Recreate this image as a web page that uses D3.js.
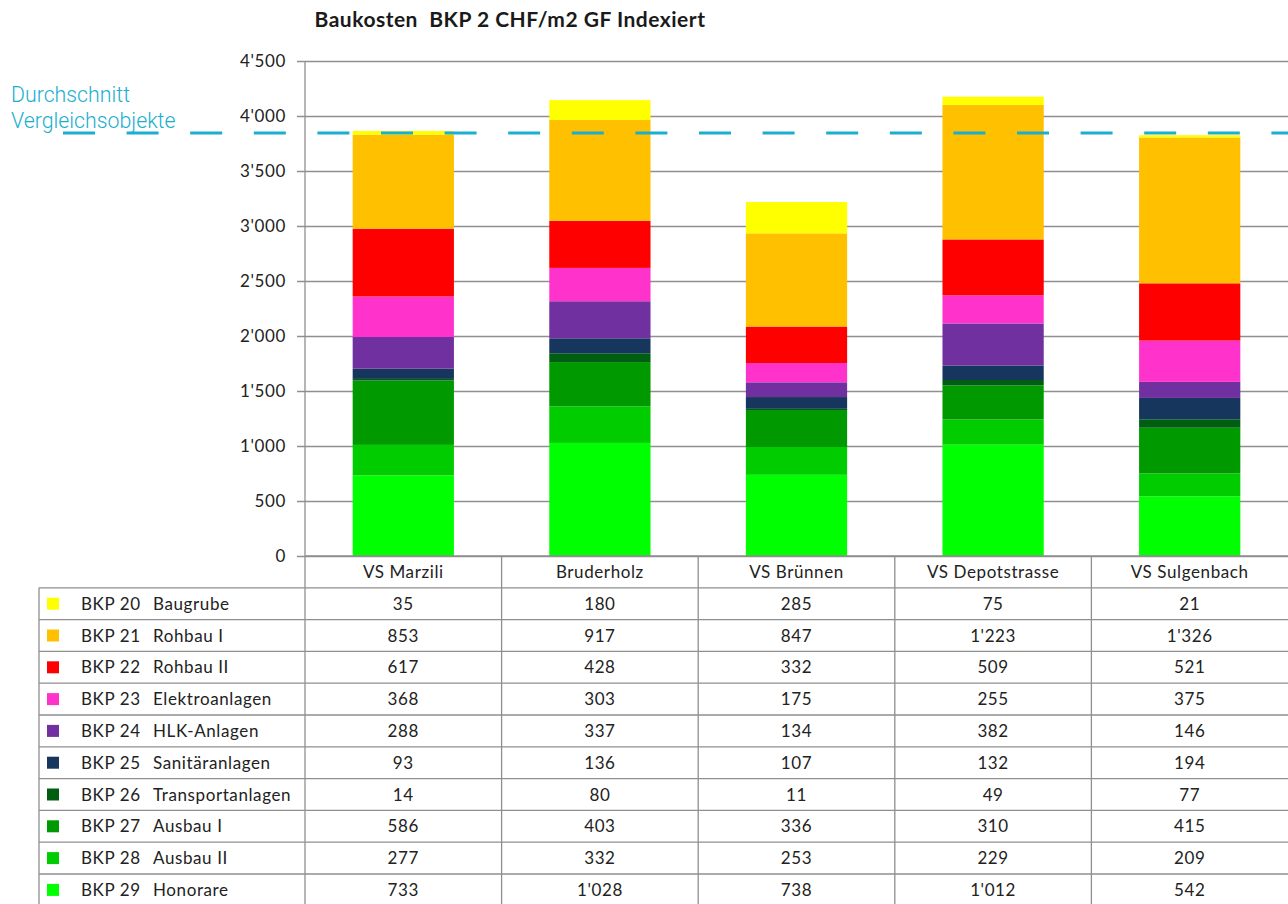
<!DOCTYPE html>
<html>
<head>
<meta charset="utf-8">
<script src="https://cdn.jsdelivr.net/npm/d3@7"></script>
<style>
  html, body { margin: 0; padding: 0; background: #fff; }
  svg { display: block; }
</style>
</head>
<body>
<svg id="chart" width="1288" height="904"></svg>
<script>
// ---------- DATA ----------
const categories = ["VS Marzili", "Bruderholz", "VS Brünnen", "VS Depotstrasse", "VS Sulgenbach"];
const seriesCodes = ["BKP 20", "BKP 21", "BKP 22", "BKP 23", "BKP 24", "BKP 25", "BKP 26", "BKP 27", "BKP 28", "BKP 29"];
const seriesNames = ["Baugrube", "Rohbau I", "Rohbau II", "Elektroanlagen", "HLK-Anlagen", "Sanitäranlagen", "Transportanlagen", "Ausbau I", "Ausbau II", "Honorare"];
const seriesColors = ["#ffff00", "#ffc000", "#ff0000", "#ff33cc", "#7030a0", "#17365d", "#005e12", "#009900", "#00cc00", "#00ff00"];
const bkp20 = [35, 180, 285, 75, 21];
const bkp21 = [853, 917, 847, 1223, 1326];
const bkp22 = [617, 428, 332, 509, 521];
const bkp23 = [368, 303, 175, 255, 375];
const bkp24 = [288, 337, 134, 382, 146];
const bkp25 = [93, 136, 107, 132, 194];
const bkp26 = [14, 80, 11, 49, 77];
const bkp27 = [586, 403, 336, 310, 415];
const bkp28 = [277, 332, 253, 229, 209];
const bkp29 = [733, 1028, 738, 1012, 542];
const seriesValues = [bkp20, bkp21, bkp22, bkp23, bkp24, bkp25, bkp26, bkp27, bkp28, bkp29];
const yTicks = [0, 500, 1000, 1500, 2000, 2500, 3000, 3500, 4000, 4500];
const averageValue = 3846;
const averageLabel = ["Durchschnitt", "Vergleichsobjekte"];
const title = "Baukosten  BKP 2 CHF/m2 GF Indexiert";

// ---------- LAYOUT ----------
const svg = d3.select("#chart");
const plotLeft = 305, plotRight = 1288, plotTop = 61, plotBottom = 556;
const tableLeft = 39, rowH = 31.8, tableBottom = plotBottom + rowH * (seriesCodes.length + 1);
const gridColor = "#8f8f8f";
const textFont = "Lato, 'Open Sans', sans-serif";
const textSize = 17, textSpacing = 0.6, textColor = "#222";

const fmt = d3.formatLocale({decimal: ".", thousands: "'", grouping: [3], currency: ["", ""]}).format(",d");

const x = d3.scaleBand().domain(categories).range([plotLeft, plotRight]).paddingInner(0).paddingOuter(0);
const y = d3.scaleLinear().domain([0, 4500]).range([plotBottom, plotTop]);
const barW = x.bandwidth() * 0.515;

function styleText(sel) {
  return sel.attr("font-family", textFont).attr("font-size", textSize)
    .attr("letter-spacing", textSpacing).attr("fill", textColor);
}

// Title
svg.append("text")
  .attr("x", 510).attr("y", 27)
  .attr("text-anchor", "middle")
  .style("white-space", "pre")
  .attr("font-family", textFont).attr("font-weight", "bold").attr("font-size", 21)
  .attr("letter-spacing", 0.5)
  .attr("fill", "#1a1a1a")
  .text(title);

// Gridlines + y axis
const yAxis = d3.axisLeft(y).tickValues(yTicks).tickFormat(fmt)
  .tickSizeInner(-(plotRight - plotLeft)).tickSizeOuter(0).tickPadding(19);
const gy = svg.append("g").attr("transform", `translate(${plotLeft},0)`).call(yAxis);
gy.select(".domain").remove();
gy.selectAll(".tick line").attr("stroke", gridColor).attr("stroke-width", 1.3).attr("x1", -8);
styleText(gy.selectAll(".tick text"));

// Stacked bars (BKP 29 at bottom, BKP 20 at top)
const rows = categories.map((c, i) => {
  const o = {cat: c};
  seriesCodes.forEach((s, j) => { o[s] = seriesValues[j][i]; });
  return o;
});
const stackOrder = seriesCodes.slice().reverse();
const stack = d3.stack().keys(stackOrder)(rows);
const colorOf = d3.scaleOrdinal().domain(seriesCodes).range(seriesColors);

svg.append("g").selectAll("g").data(stack).join("g")
  .attr("fill", d => colorOf(d.key))
  .selectAll("rect").data(d => d).join("rect")
  .attr("x", d => x(d.data.cat) + (x.bandwidth() - barW) / 2)
  .attr("width", barW)
  .attr("y", d => y(d[1]))
  .attr("height", d => y(d[0]) - y(d[1]));

// Table lines
const tg = svg.append("g").attr("stroke", gridColor).attr("stroke-width", 1.3);
tg.append("line").attr("x1", plotLeft).attr("x2", plotLeft).attr("y1", plotTop).attr("y2", tableBottom);
tg.append("line").attr("x1", plotLeft).attr("x2", plotRight).attr("y1", plotBottom).attr("y2", plotBottom);
categories.slice(1).forEach(c => {
  tg.append("line").attr("x1", x(c)).attr("x2", x(c)).attr("y1", plotBottom).attr("y2", tableBottom);
});
tg.append("line").attr("x1", tableLeft).attr("x2", tableLeft).attr("y1", plotBottom + rowH).attr("y2", tableBottom);
d3.range(1, seriesCodes.length + 1).forEach(k => {
  const yy = plotBottom + rowH * k;
  tg.append("line").attr("x1", tableLeft).attr("x2", plotRight).attr("y1", yy).attr("y2", yy);
});

// Header: category names
styleText(svg.append("g").selectAll("text").data(categories).join("text")
  .attr("x", d => x(d) + x.bandwidth() / 2)
  .attr("y", plotBottom + rowH / 2 + 6)
  .attr("text-anchor", "middle"))
  .text(d => d);

// Table body
const body = svg.append("g");
seriesCodes.forEach((code, j) => {
  const cy = plotBottom + rowH * (j + 1) + rowH / 2;
  body.append("rect").attr("x", 47).attr("y", cy - 6).attr("width", 12).attr("height", 12).attr("fill", seriesColors[j]);
  styleText(body.append("text").attr("x", 81).attr("y", cy + 6)).text(code);
  styleText(body.append("text").attr("x", 153).attr("y", cy + 6)).text(seriesNames[j]);
  categories.forEach((c, i) => {
    styleText(body.append("text")
      .attr("x", x(c) + x.bandwidth() / 2).attr("y", cy + 6)
      .attr("text-anchor", "middle"))
      .text(fmt(seriesValues[j][i]));
  });
});

// Average dashed line
const avgY = y(averageValue);
svg.append("line")
  .attr("x1", 63).attr("x2", plotRight).attr("y1", avgY).attr("y2", avgY)
  .attr("stroke", "#1aaed0").attr("stroke-width", 3)
  .attr("stroke-dasharray", "32 31.6");

// Average label
svg.append("g").selectAll("text").data(averageLabel).join("text")
  .attr("x", 11).attr("y", (d, i) => 102 + i * 26)
  .attr("font-family", "Roboto, 'Open Sans', sans-serif").attr("font-weight", 300)
  .attr("font-size", 21.3).attr("fill", "#1aaed0")
  .text(d => d);
</script>
</body>
</html>
